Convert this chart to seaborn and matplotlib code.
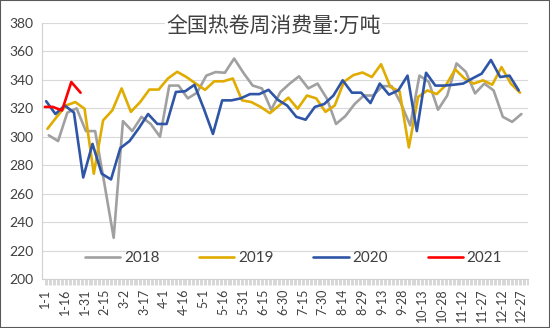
import numpy as np
import pandas as pd
import matplotlib
matplotlib.use("Agg")
import matplotlib.pyplot as plt
import seaborn as sns

# ---- data (weekly) ----
v2018 = [301, 297, 317, 320, 304, 304, 267, 229, 311, 304, 314, 309, 300, 336, 336, 327,
         331, 343, 345.5, 345, 355, 345, 336, 334, 319, 331.5, 337.4, 342.5, 334, 337.4,
         327, 309, 314.5, 323, 329, 329, 335.6, 335.6, 323.5, 308, 343, 338.7, 319, 329,
         351.6, 345.7, 330.5, 337.4, 332.6, 314, 310.5, 316]
v2019 = [305.6, 314, 322, 324.4, 319.7, 274, 311.5, 318.6, 334, 317.5, 324.4, 333.2, 333.2,
         341, 345.7, 342, 337.4, 333, 339, 339, 341, 325.6, 324.4, 321, 316.6, 322, 327.5,
         319.7, 329, 327, 317.5, 322, 338.7, 343.3, 345.2, 342, 351, 335, 332, 292.5, 328,
         332.6, 330, 336.3, 347.4, 341, 337.4, 339.7, 336.6, 349, 337.4, 331]
v2020 = [325, 316, 322, 317, 271.4, 295, 274, 270, 292, 297, 306, 316, 309, 309, 331.5, 332,
         336.5, 320, 302, 325.6, 325.6, 327, 330, 330, 333, 326, 322, 314, 312, 321, 323,
         329, 339.7, 331, 331, 323.7, 337.4, 329.6, 332.6, 343, 304, 345, 336, 336, 336.6,
         337.4, 341, 344.4, 354, 342, 343, 332.6]
dates2021 = ["2021-01-01", "2021-01-07", "2021-01-14", "2021-01-21", "2021-01-28"]
v2021 = [321, 321, 318.5, 338.5, 331]

start_dates = {"2018": "2018-01-04", "2019": "2019-01-03", "2020": "2020-01-02"}
years = ["2018", "2019", "2020", "2021"]
tick_days = list(range(0, 361, 15))
tick_labels = ["1-1", "1-16", "1-31", "2-15", "3-2", "3-17", "4-1", "4-16", "5-1", "5-16",
               "5-31", "6-15", "6-30", "7-15", "7-30", "8-14", "8-29", "9-13", "9-28",
               "10-13", "10-28", "11-12", "11-27", "12-12", "12-27"]
title = "全国热卷周消费量:万吨"

frames = []
for y, vals in zip(["2018", "2019", "2020"], [v2018, v2019, v2020]):
    d = pd.date_range(start_dates[y], periods=len(vals), freq="7D")
    frames.append(pd.DataFrame({"day": d.dayofyear - 1, "value": vals, "year": y}))
d21 = pd.to_datetime(dates2021)
frames.append(pd.DataFrame({"day": d21.dayofyear - 1, "value": v2021, "year": "2021"}))
df = pd.concat(frames, ignore_index=True)

sns.set_theme(style="white")
plt.rcParams["font.family"] = ["Lato", "DejaVu Sans"]

palette = {"2018": "#a0a0a0", "2019": "#e0ac00", "2020": "#2f56a6", "2021": "#ff0000"}

fig = plt.figure(figsize=(5.5, 3.28), dpi=100)
ax = fig.add_axes([0.0755, 0.1494, 0.8845, 0.7805])

sns.lineplot(data=df, x="day", y="value", hue="year", hue_order=years, palette=palette,
             linewidth=1.9, ax=ax, legend=True, sort=False)

ax.set_xlim(-2.5, 365)
ax.set_ylim(200, 380)
ax.set_yticks(range(200, 381, 20))
ax.set_xticks(tick_days)
ax.set_xticklabels(tick_labels, rotation=90, fontsize=9, color="#404040")
ax.set_xticks(np.arange(0, 366, 1), minor=True)
ax.tick_params(axis="x", which="both", bottom=True, length=4, width=0.5,
               color="#c8c8c8", pad=3)
ax.tick_params(axis="y", labelsize=10, colors="#404040", length=0, pad=6)
ax.set_xlabel("")
ax.set_ylabel("")
ax.grid(axis="y", color="#d9d9d9", linewidth=0.8)
ax.grid(axis="x", visible=False)
for s in ["top", "right"]:
    ax.spines[s].set_visible(False)
for s in ["left", "bottom"]:
    ax.spines[s].set_color("#d0d0d0")
    ax.spines[s].set_linewidth(0.8)

leg = ax.legend(loc="center", bbox_to_anchor=(0.518, 0.082), ncol=4, frameon=False,
                fontsize=11, handlelength=2.3, columnspacing=2.6, handletextpad=0.25)
for t in leg.get_texts():
    t.set_color("#404040")

fig.text(0.4975, 0.918, title, ha="center", va="center", fontsize=15, color="#404040",
         family=["Noto Sans CJK SC", "DejaVu Sans"],
         bbox=dict(facecolor="white", edgecolor="none", pad=1))

fig.patches.append(plt.Rectangle((0, 0), 1, 1, transform=fig.transFigure, fill=False,
                                 edgecolor="#595959", linewidth=1.5))

fig.savefig("out.png", dpi=100)
